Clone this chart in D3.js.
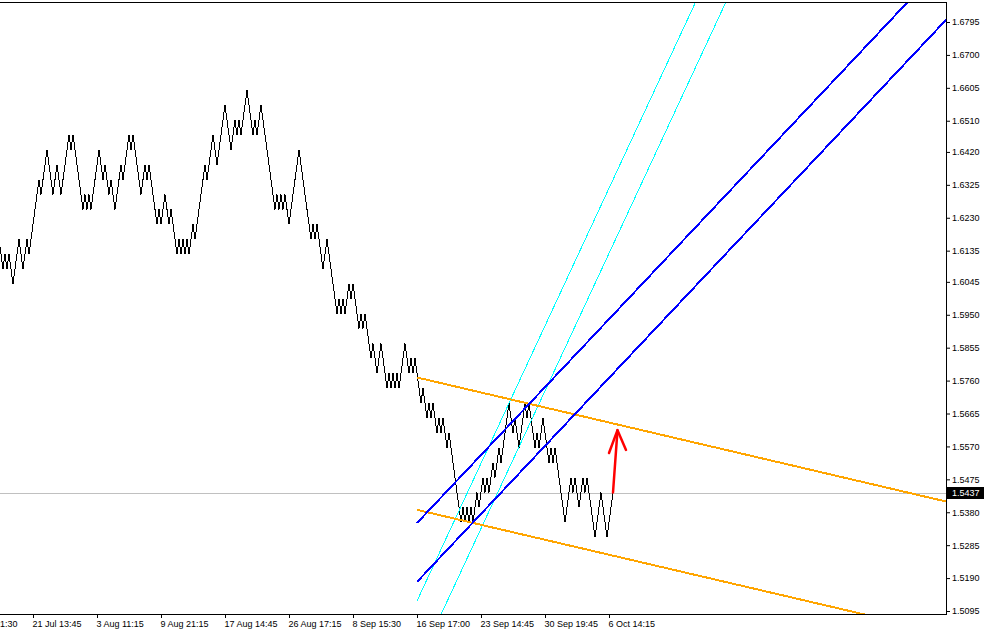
<!DOCTYPE html>
<html><head><meta charset="utf-8">
<script src="https://cdn.jsdelivr.net/npm/d3@7"></script>
<style>
body{margin:0;background:#fff}
svg{display:block}
text{font-family:"Liberation Sans",Arial,sans-serif;font-size:9px}
</style>
</head><body>
<svg id="c" width="984" height="631"></svg>
<script>
// ---- data ----
const firstBar = -1;
const closes = [
1.6168,
1.6125,1.6082,1.6125,1.6082,1.6125,1.6082,1.6039,1.6082,1.6125,1.6168,
1.6125,1.6082,1.6125,1.6168,1.6125,1.6168,1.6211,1.6254,1.6297,1.6340,
1.6297,1.6340,1.6383,1.6426,1.6383,1.6340,1.6297,1.6340,1.6383,1.6340,
1.6297,1.6340,1.6383,1.6426,1.6469,1.6426,1.6469,1.6426,1.6383,1.6340,
1.6297,1.6254,1.6297,1.6254,1.6297,1.6254,1.6297,1.6340,1.6383,1.6426,
1.6383,1.6340,1.6383,1.6340,1.6297,1.6340,1.6297,1.6254,1.6297,1.6340,
1.6383,1.6340,1.6383,1.6426,1.6469,1.6426,1.6469,1.6426,1.6383,1.6340,
1.6297,1.6340,1.6383,1.6340,1.6383,1.6340,1.6297,1.6254,1.6211,1.6254,
1.6211,1.6254,1.6297,1.6254,1.6211,1.6254,1.6211,1.6168,1.6125,1.6168,
1.6125,1.6168,1.6125,1.6168,1.6125,1.6168,1.6211,1.6168,1.6211,1.6254,
1.6297,1.6340,1.6383,1.6340,1.6383,1.6426,1.6469,1.6426,1.6383,1.6426,
1.6469,1.6512,1.6555,1.6512,1.6469,1.6426,1.6469,1.6512,1.6469,1.6512,
1.6469,1.6512,1.6555,1.6598,1.6555,1.6512,1.6469,1.6512,1.6469,1.6512,
1.6555,1.6512,1.6469,1.6426,1.6383,1.6340,1.6297,1.6254,1.6297,1.6254,
1.6297,1.6254,1.6297,1.6254,1.6211,1.6254,1.6297,1.6340,1.6383,1.6426,
1.6383,1.6340,1.6297,1.6254,1.6211,1.6168,1.6211,1.6168,1.6211,1.6168,
1.6125,1.6082,1.6125,1.6168,1.6125,1.6082,1.6039,1.5996,1.5953,1.5996,
1.5953,1.5996,1.5953,1.5996,1.6039,1.5996,1.6039,1.5996,1.5953,1.5910,
1.5953,1.5910,1.5953,1.5910,1.5867,1.5824,1.5867,1.5824,1.5781,1.5824,
1.5867,1.5824,1.5781,1.5738,1.5781,1.5738,1.5781,1.5738,1.5781,1.5738,
1.5781,1.5824,1.5867,1.5824,1.5781,1.5824,1.5781,1.5824,1.5781,1.5738,
1.5695,1.5738,1.5695,1.5652,1.5695,1.5652,1.5695,1.5652,1.5609,1.5652,
1.5609,1.5652,1.5609,1.5566,1.5609,1.5566,1.5523,1.5480,1.5437,1.5394,
1.5351,1.5394,1.5351,1.5394,1.5351,1.5394,1.5351,1.5394,1.5437,1.5394,
1.5437,1.5480,1.5437,1.5480,1.5437,1.5480,1.5523,1.5480,1.5523,1.5566,
1.5523,1.5566,1.5609,1.5652,1.5695,1.5652,1.5609,1.5652,1.5609,1.5566,
1.5609,1.5652,1.5695,1.5652,1.5695,1.5652,1.5609,1.5566,1.5609,1.5566,
1.5609,1.5652,1.5609,1.5566,1.5523,1.5566,1.5523,1.5566,1.5523,1.5480,
1.5437,1.5394,1.5351,1.5394,1.5437,1.5480,1.5437,1.5480,1.5437,1.5394,
1.5437,1.5480,1.5437,1.5480,1.5437,1.5394,1.5351,1.5308,1.5351,1.5394,
1.5437,1.5394,1.5351,1.5308,1.5351,1.5394,1.5437
];
const yTicks = [1.6795,1.6700,1.6605,1.6510,1.6420,1.6325,1.6230,1.6135,1.6045,1.5950,
                1.5855,1.5760,1.5665,1.5570,1.5475,1.5380,1.5285,1.5190,1.5095];
const xTickBars = [-16,16,48,80,112,144,176,208,240,272,304];
const xTickLabels = ["14 Jul 01:30","21 Jul 13:45","3 Aug 11:15","9 Aug 21:15","17 Aug 14:45",
                     "26 Aug 17:15","8 Sep 15:30","16 Sep 17:00","23 Sep 14:45","30 Sep 19:45","6 Oct 14:15"];
const bidPrice = 1.5437;
const orangeLines = [[[208,1.5769],[472.5,1.5411]],[[208,1.5387],[472.5,1.5030]]];
const blueLines   = [[[208,1.5349],[472.5,1.6970]],[[208,1.5179],[472.5,1.6801]]];
const cyanLines   = [[[208,1.5124],[472.5,1.8406]],[[208,1.4936],[472.5,1.8218]]];
const arrowShaft = [[306,1.5437],[308.25,1.5617]];
const arrowHead  = [[304,1.5551],[308.25,1.5617],[312.5,1.5560]];

// ---- layout ----
const plotL = 0, plotR = 946, plotT = 2, plotB = 614;
const x = d3.scaleLinear().domain([-0.5, 472.5]).range([0, 946]);
const y = d3.scaleLinear().domain([1.5095, 1.6795]).range([611, 22]);

const svg = d3.select("#c");
svg.append("rect").attr("width",984).attr("height",631).attr("fill","#fff");
svg.append("defs").append("clipPath").attr("id","plot")
  .append("rect").attr("x",plotL).attr("y",plotT).attr("width",plotR-plotL).attr("height",plotB-plotT);

const g = svg.append("g").attr("clip-path","url(#plot)");

// bid line
g.append("line").attr("x1",plotL).attr("x2",plotR)
  .attr("y1",Math.round(y(bidPrice))+0.5).attr("y2",Math.round(y(bidPrice))+0.5)
  .attr("stroke","#c0c0c0").attr("stroke-width",1).attr("shape-rendering","crispEdges");

// price line
const line = d3.line().x((d,i)=>x(firstBar+i)).y(d=>y(d));
g.append("path").attr("d",line(closes)).attr("fill","none")
  .attr("stroke","#000").attr("stroke-width",1).attr("shape-rendering","crispEdges");

// objects
const seg = d3.line().x(d=>x(d[0])).y(d=>y(d[1]));
function drawSet(set, color, w){
  set.forEach(s=>g.append("path").attr("d",seg(s)).attr("fill","none")
    .attr("stroke",color).attr("stroke-width",w).attr("shape-rendering","crispEdges"));
}
drawSet(cyanLines, "#00ffff", 1);
drawSet(orangeLines, "#ffa500", 2);
drawSet(blueLines, "#0000ff", 2);

g.append("path").attr("d",seg(arrowShaft)).attr("fill","none")
  .attr("stroke","#ff0000").attr("stroke-width",2.5).attr("stroke-linecap","round");
g.append("path").attr("d",seg(arrowHead)).attr("fill","none")
  .attr("stroke","#ff0000").attr("stroke-width",2.5).attr("stroke-linejoin","round").attr("stroke-linecap","round");

// frame
const frame = svg.append("g").attr("stroke","#000").attr("stroke-width",1).attr("shape-rendering","crispEdges");
frame.append("line").attr("x1",0).attr("x2",plotR+0.5).attr("y1",plotT+0.5).attr("y2",plotT+0.5);
frame.append("line").attr("x1",plotR+0.5).attr("x2",plotR+0.5).attr("y1",plotT).attr("y2",plotB+0.5);
frame.append("line").attr("x1",0).attr("x2",plotR+0.5).attr("y1",plotB+0.5).attr("y2",plotB+0.5);

// y axis
const ya = svg.append("g").attr("transform",`translate(${plotR},0)`)
  .call(d3.axisRight(y).tickValues(yTicks).tickFormat(d3.format(".4f")).tickSize(4).tickPadding(2));
ya.select(".domain").remove();
ya.selectAll("text").attr("fill","#000").style("font-size","9px");
ya.selectAll("line").attr("stroke","#000");

// x axis
const xa = svg.append("g").attr("transform",`translate(0,${plotB})`)
  .call(d3.axisBottom(x).tickValues(xTickBars).tickFormat((d,i)=>xTickLabels[i]).tickSize(4).tickPadding(3));
xa.select(".domain").remove();
xa.selectAll("text").attr("text-anchor","start").attr("dx","-1").attr("fill","#000").style("font-size","9px");
xa.selectAll("line").attr("stroke","#000");

// bid label
const by = y(bidPrice);
svg.append("rect").attr("x",plotR+1).attr("y",Math.round(by)-6).attr("width",984-plotR-1).attr("height",12).attr("fill","#000");
svg.append("text").attr("x",plotR+6).attr("y",by).attr("dy","0.34em").attr("fill","#fff")
  .style("font-size","9px").text(d3.format(".4f")(bidPrice));
</script>
</body></html>
